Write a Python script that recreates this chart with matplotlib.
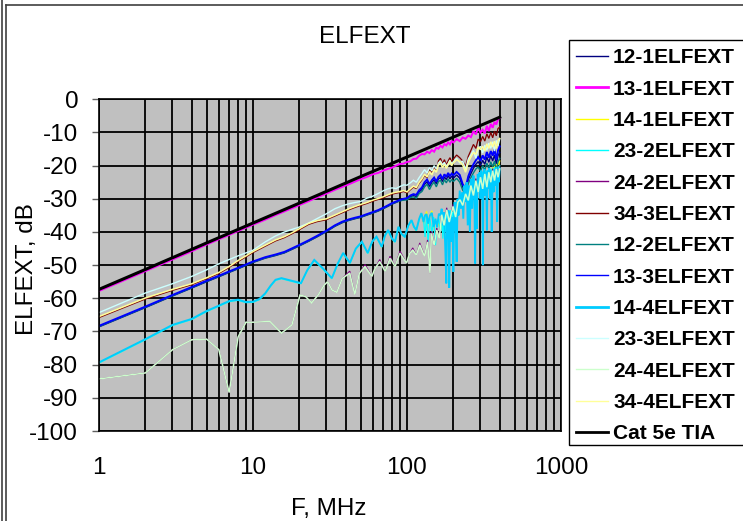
import matplotlib
matplotlib.use("Agg")
import matplotlib.pyplot as plt
from matplotlib.lines import Line2D
from matplotlib.patches import Rectangle

plt.rcParams['font.family'] = ['Liberation Sans', 'DejaVu Sans']

# ---------------- data ----------------
title = "ELFEXT"
x_label = "F, MHz"
y_label = "ELFEXT, dB"
x_ticks = [1, 10, 100, 1000]
x_tick_labels = ["1", "10", "100", "1000"]
y_ticks = [0, -10, -20, -30, -40, -50, -60, -70, -80, -90, -100]

# shared frequency grid (MHz) for the upper / middle group
freq_mid = [1, 2, 3, 4, 5, 6, 7, 8, 9, 10, 12, 14, 16, 18, 20, 23, 26, 30, 34, 38, 42, 46, 50,
            55, 60, 65, 70, 75, 80, 85, 90, 95, 100,
            105, 110, 115, 120, 125, 130, 135, 140, 145, 150, 155, 160, 165, 170, 175, 180, 185, 190, 195, 200,
            210, 220, 230, 240, 250, 260, 270, 280, 290, 300, 310, 320, 330, 340, 350, 360, 370, 380, 390, 400]

v_13_1 = [-57.8, -51.8, -48.3, -45.8, -43.8, -42.2, -40.9, -39.7, -38.7, -37.8, -36.3, -34.9, -33.8, -32.8, -31.9,
          -30.7, -29.6, -28.4, -27.3, -26.4, -25.6, -24.8, -24.1, -23.4, -22.6, -22.2, -21.5, -21.0, -20.6, -20.0,
          -19.5, -19.4, -18.9, -18.7, -18.0, -17.9, -17.0, -16.5, -16.6, -15.8, -16.2, -15.3, -15.8, -14.6, -14.9,
          -14.0, -14.5, -13.5, -13.9, -13.0, -13.6, -12.6, -13.0, -12.0, -12.6, -11.5, -11.9, -10.9, -11.4, -9.6,
          -10.6, -8.4, -10.0, -9.2, -10.3, -8.0, -9.6, -7.4, -8.6, -6.8, -7.6, -6.0, -5.6]

v_13_3 = [-68.3, -62.5, -59.0, -56.6, -54.7, -53.2, -51.9, -50.8, -49.8, -48.9, -47.6, -46.8, -46.0, -44.9, -43.9,
          -42.5, -41.2, -39.6, -38.0, -36.9, -36.2, -35.7, -35.3, -34.6, -34.0, -33.4, -32.7, -32.0, -31.3, -30.8,
          -30.3, -30.0, -29.8, -29.0, -28.6, -28.8, -27.4, -26.6, -25.0, -24.2, -25.6, -24.4, -23.6, -24.8, -23.4,
          -22.8, -24.0, -22.6, -23.4, -22.2, -23.2, -22.4, -22.9, -21.9, -22.8, -25.6, -26.8, -23.2, -21.2, -19.6,
          -18.4, -17.4, -18.6, -16.9, -18.2, -15.9, -17.6, -15.6, -17.0, -15.1, -18.2, -15.4, -14.2]

v_12_1 = [-68.6, -62.8, -59.3, -56.9, -55.0, -53.5, -52.2, -51.1, -50.1, -49.2, -47.9, -47.1, -46.3, -45.2, -44.2,
          -42.8, -41.5, -39.9, -38.3, -37.2, -36.5, -36.0, -35.6, -34.9, -34.3, -33.7, -33.0, -32.3, -31.6, -31.1,
          -30.6, -30.3, -30.1, -29.4, -29.0, -29.3, -27.9, -27.2, -25.6, -24.9, -26.3, -25.0, -24.3, -25.5, -24.0,
          -23.6, -24.8, -23.4, -24.2, -23.0, -24.0, -23.2, -23.8, -22.8, -23.8, -26.4, -27.6, -24.2, -22.4, -20.8,
          -19.6, -18.8, -20.0, -18.4, -19.6, -17.4, -19.0, -17.0, -18.6, -16.8, -19.6, -17.0, -16.0]

v_12_2 = [-68.5, -62.7, -59.2, -56.8, -54.9, -53.4, -52.1, -51.0, -50.0, -49.1, -47.8, -47.0, -46.2, -45.1, -44.1,
          -42.7, -41.4, -39.8, -38.2, -37.1, -36.4, -35.9, -35.5, -34.8, -34.2, -33.6, -32.9, -32.2, -31.5, -31.0,
          -30.6, -30.4, -30.3, -29.6, -29.4, -29.8, -28.4, -27.8, -26.4, -25.6, -27.2, -25.8, -25.0, -26.4, -24.8,
          -24.4, -25.8, -24.2, -25.2, -24.0, -25.0, -24.2, -24.8, -23.8, -25.0, -27.4, -28.6, -25.4, -23.6, -22.2,
          -21.0, -20.4, -21.8, -20.0, -21.4, -19.2, -21.0, -18.8, -20.4, -18.6, -21.6, -18.8, -17.8]

v_23_3 = [-64.3, -58.4, -55.6, -53.4, -51.4, -49.6, -48.3, -47.2, -46.3, -45.5, -43.0, -41.2, -40.0, -39.2, -38.5,
          -37.3, -36.0, -34.5, -33.0, -32.1, -31.5, -31.1, -30.8, -29.8, -29.2, -28.4, -27.6, -27.0, -26.7, -26.9,
          -26.3, -25.8, -25.9, -25.2, -24.4, -25.0, -23.6, -22.4, -21.2, -22.2, -20.6, -21.6, -20.0, -21.0, -19.2,
          -18.6, -19.8, -19.0, -20.2, -19.4, -18.4, -19.6, -18.8, -17.8, -19.2, -18.6, -21.2, -18.0, -16.8, -15.4,
          -17.8, -14.8, -14.2, -16.2, -13.8, -15.4, -13.2, -14.8, -12.8, -15.6, -12.4, -14.0, -12.0]

v_34_4 = [-65.5, -59.9, -57.3, -55.6, -53.8, -52.2, -50.4, -48.6, -47.2, -45.9, -44.0, -42.4, -41.4, -40.2, -39.0,
          -37.4, -36.6, -36.0, -34.9, -33.9, -33.0, -32.3, -31.7, -31.1, -30.4, -29.9, -29.4, -28.8, -28.3, -28.0,
          -27.8, -27.5, -27.9, -27.0, -26.2, -26.6, -25.0, -24.0, -22.6, -23.4, -21.8, -22.8, -21.2, -22.0, -19.8,
          -19.2, -20.6, -19.6, -20.8, -19.8, -18.8, -20.0, -19.2, -18.2, -18.8, -19.8, -22.0, -19.0, -17.4, -16.0,
          -16.6, -14.4, -15.2, -14.2, -15.6, -13.4, -14.8, -12.8, -14.4, -12.6, -14.8, -12.4, -11.8]

v_34_3 = [-65.8, -60.2, -57.6, -55.9, -54.1, -52.5, -50.7, -48.9, -47.5, -46.2, -44.3, -42.7, -41.7, -40.5, -39.3,
          -37.7, -36.9, -36.3, -35.2, -34.2, -33.3, -32.6, -32.0, -31.4, -30.7, -30.2, -29.7, -29.1, -28.6, -28.3,
          -28.1, -27.8, -28.2, -27.3, -26.5, -26.9, -25.3, -24.3, -22.9, -23.7, -21.0, -22.0, -20.4, -21.2, -18.6,
          -17.8, -19.4, -18.2, -19.8, -18.6, -17.6, -18.8, -18.0, -16.8, -17.6, -18.6, -20.2, -17.2, -15.4, -13.6,
          -14.8, -12.0, -12.8, -11.2, -12.6, -10.4, -11.8, -10.0, -11.6, -9.6, -11.0, -8.8, -8.4]

# Cat 5e TIA limit line
freq_tia = [1, 2, 5, 10, 20, 50, 100, 200, 400]
v_tia = [-57.3, -51.3, -43.3, -37.3, -31.3, -23.3, -17.4, -11.4, -5.4]

# lower group (own frequency grid)
freq_low = [1, 2, 3, 4, 5, 6, 7, 8, 9, 10, 11, 12, 13, 14, 15.3, 17.5, 20.5, 22.5, 25, 28.5, 32.5, 35.5, 38.5,
            42.6, 46.5, 50.9, 55.6, 59.5, 63.4, 68.5, 72, 75.5, 79.5, 83.6, 88, 92, 96.7, 102, 107, 111, 115,
            120, 124, 128, 131, 134, 137, 141, 145, 149, 153, 157, 161, 165, 168, 171, 174, 177, 180, 182, 184,
            186, 188, 190, 192, 194, 196, 198, 200, 202, 204, 207, 210, 213, 216, 220, 224, 228, 232, 236, 240,
            244, 248, 252, 256, 260, 265, 270, 274, 277, 280, 284, 288, 292, 296, 300, 304, 308, 311, 314, 318,
            322, 326, 330, 334, 338, 342, 346, 350, 355, 360, 365, 370, 375, 380, 385, 390, 395, 400]

v_14_4 = [-79.3, -72.3, -68.0, -66.2, -63.8, -62.2, -60.8, -60.4, -61.1, -61.0, -60.2, -58.5, -56.2, -54.4, -53.9,
          -54.6, -55.4, -51.5, -48.4, -51.0, -53.9, -49.5, -46.3, -49.3, -45.0, -42.9, -46.3, -42.8, -41.4, -44.4,
          -41.0, -39.4, -41.8, -42.9, -38.4, -40.5, -41.4, -38.0, -36.4, -38.4, -39.4, -36.0, -34.3, -37.0, -35.0,
          -34.6, -37.5, -35.0, -34.2, -38.5, -36.0, -38.5, -34.5, -35.0, -33.0, -38.0, -34.0, -44.0, -55.5, -36.0,
          -42.0, -33.5, -56.8, -40.0, -34.0, -43.0, -35.5, -41.0, -52.0, -36.0, -31.0, -38.0, -49.0, -30.0, -35.0,
          -27.5, -33.0, -28.0, -36.0, -26.0, -31.0, -25.0, -38.0, -26.0, -40.0, -24.0, -33.0, -23.0, -29.0, -49.5,
          -26.0, -39.0, -22.5, -28.0, -22.0, -30.0, -21.5, -27.0, -50.0, -24.0, -21.0, -29.0, -22.0, -39.5, -21.5,
          -27.0, -20.8, -30.0, -21.5, -40.0, -22.0, -28.0, -21.0, -26.0, -20.5, -37.0, -21.5, -25.0, -20.8]

v_23_2 = [-79.5, -72.5, -68.2, -66.4, -64.0, -62.4, -61.0, -60.6, -61.3, -61.2, -60.4, -58.7, -56.4, -54.6, -54.1,
          -54.8, -55.6, -51.7, -48.6, -51.2, -54.1, -49.7, -46.5, -49.5, -45.2, -43.1, -46.5, -43.0, -41.6, -44.6,
          -41.2, -39.6, -42.0, -43.1, -38.6, -40.7, -41.6, -38.2, -36.6, -38.6, -39.6, -36.3, -34.6, -36.0, -41.5,
          -35.0, -43.0, -36.0, -40.5, -35.5, -44.0, -37.0, -36.0, -40.0, -34.0, -42.0, -36.5, -40.0, -37.0, -33.0,
          -38.0, -35.0, -40.0, -36.0, -33.5, -37.0, -34.0, -36.5, -33.0, -35.0, -32.0, -34.0, -31.0, -32.5, -30.0,
          -31.0, -29.0, -30.5, -28.0, -29.5, -27.0, -28.5, -26.5, -28.0, -26.0, -27.0, -25.0, -26.5, -24.5, -26.0,
          -24.0, -25.5, -23.5, -25.0, -23.0, -24.5, -22.5, -24.0, -22.0, -23.5, -22.0, -23.0, -21.5, -23.0, -21.5,
          -22.5, -21.0, -22.5, -21.0, -22.0, -20.8, -22.0, -20.5, -21.5, -20.5, -21.5, -20.2, -21.0, -20.0]

v_14_1 = [-79.4, -72.4, -68.1, -66.3, -63.9, -62.3, -60.9, -60.5, -61.2, -61.1, -60.3, -58.6, -56.3, -54.5, -54.0,
          -54.7, -55.5, -51.6, -48.5, -51.1, -54.0, -49.6, -46.4, -49.4, -45.1, -43.0, -46.4, -42.9, -41.5, -44.5,
          -41.1, -39.5, -41.9, -43.0, -38.5, -40.6, -41.5, -38.1, -36.5, -38.5, -39.5, -36.1, -34.4, -37.2, -35.2,
          -33.8, -37.7, -35.2, -33.6, -38.7, -36.2, -38.0, -37.5, -39.0, -37.5, -38.5, -36.0, -39.0, -40.0, -37.5,
          -39.0, -36.0, -38.0, -37.5, -36.5, -38.2, -37.0, -37.8, -37.8, -35.0, -33.0, -34.5, -32.5, -33.0, -31.0,
          -32.0, -30.5, -31.5, -29.5, -30.5, -28.5, -29.5, -28.0, -29.0, -27.5, -28.0, -26.5, -27.5, -26.0, -27.0,
          -25.5, -26.5, -25.0, -26.0, -24.5, -25.5, -24.0, -25.0, -23.5, -24.5, -23.0, -24.0, -22.5, -23.5, -22.0,
          -23.0, -21.5, -22.5, -21.0, -22.0, -20.5, -21.5, -20.0, -21.0, -19.5, -20.5, -19.0, -19.8, -18.6]

freq_green = [1, 2, 3, 4, 5, 6, 7, 8, 9, 10, 12.9, 15.3, 17.9, 20.2, 22, 24, 26.5, 29, 30.5, 32.6, 35, 38,
              42.5, 45.8, 49, 53.4, 59.1, 62, 66.5, 72.2, 77.6, 83.6, 90, 99.3, 104, 109, 115, 121, 130, 136,
              141, 144, 150, 156, 162, 168, 174, 181, 188, 199, 207, 214, 221, 230, 240, 250, 260, 270, 280,
              290, 300, 310, 320, 330, 340, 350, 360, 370, 380, 390, 400]

v_24_4 = [-84.3, -82.5, -75.5, -72.5, -72.3, -75.5, -88.4, -71.7, -67.2, -67.2, -67.0, -70.5, -68.0, -59.0,
          -59.5, -61.4, -59.0, -56.0, -55.0, -57.5, -58.2, -54.0, -52.4, -58.9, -52.5, -50.4, -53.4, -51.0,
          -48.9, -51.9, -47.9, -50.4, -46.4, -49.4, -46.5, -45.4, -47.0, -43.9, -47.4, -43.0, -52.4, -40.4,
          -44.0, -39.4, -42.0, -34.8, -38.0, -33.3, -37.0, -32.3, -35.5, -31.0, -30.3, -32.0, -28.5, -30.5,
          -26.0, -29.0, -24.5, -28.0, -23.5, -27.0, -22.5, -26.5, -22.0, -25.0, -21.5, -24.5, -21.0, -23.5, -21.0]

v_24_2 = [-84.3, -82.5, -75.5, -72.5, -72.3, -75.5, -88.4, -71.7, -67.2, -67.2, -67.0, -70.5, -68.0, -59.0,
          -59.5, -61.4, -59.0, -56.0, -55.0, -57.5, -58.2, -54.0, -51.8, -58.9, -52.5, -49.8, -53.4, -51.0,
          -48.3, -51.9, -47.3, -50.4, -45.8, -49.4, -46.5, -44.8, -47.0, -43.3, -47.4, -42.4, -52.4, -39.8,
          -44.0, -38.8, -42.0, -34.2, -38.0, -32.7, -37.0, -31.7, -35.5, -30.4, -29.7, -32.0, -27.9, -30.5,
          -25.4, -29.0, -23.9, -28.0, -22.9, -27.0, -21.9, -26.5, -21.4, -25.0, -20.9, -24.5, -20.4, -23.5, -20.4]

# series definitions (drawing order as in the legend): label, freq, values, colour, width
series = [
    ("12-1ELFEXT", freq_mid, v_12_1, "#000080", 1.0),
    ("13-1ELFEXT", freq_mid, v_13_1, "#FF00FF", 1.4),
    ("14-1ELFEXT", freq_low, v_14_1, "#FFFF00", 0.9),
    ("23-2ELFEXT", freq_low, v_23_2, "#00FFFF", 0.9),
    ("24-2ELFEXT", freq_green, v_24_2, "#800080", 0.8),
    ("34-3ELFEXT", freq_mid, v_34_3, "#800000", 0.9),
    ("12-2ELFEXT", freq_mid, v_12_2, "#008080", 1.0),
    ("13-3ELFEXT", freq_mid, v_13_3, "#0000FF", 1.4),
    ("14-4ELFEXT", freq_low, v_14_4, "#00CCFF", 1.35),
    ("23-3ELFEXT", freq_mid, v_23_3, "#CCFFFF", 1.0),
    ("24-4ELFEXT", freq_green, v_24_4, "#CCFFCC", 1.1),
    ("34-4ELFEXT", freq_mid, v_34_4, "#FFFF99", 1.1),
    ("Cat 5e TIA", freq_tia, v_tia, "#000000", 2.2),
]

# ---------------- figure ----------------
W, H = 743, 521
fig = plt.figure(figsize=(W / 100, H / 100), dpi=100)

def fx(px):
    return px / W

def fy(py):
    return 1 - py / H

ax = fig.add_axes([fx(99), fy(431), fx(561) - fx(99), fy(99.3) - fy(431)])
ax.set_facecolor("#C0C0C0")
ax.set_xscale("log")
ax.set_xlim(1, 1000)
ax.set_ylim(-100, 0)

for name, f, v, c, lw in series:
    ax.plot(f, v, color=c, lw=lw, solid_joinstyle="miter")

ax.set_xticks(x_ticks)
ax.set_xticklabels(x_tick_labels)
ax.set_yticks(y_ticks)
ax.set_yticklabels([str(t) for t in y_ticks])
ax.grid(True, which="major", axis="both", color="black", lw=1.3)
ax.grid(True, which="minor", axis="x", color="black", lw=1.3)
ax.set_axisbelow(True)
ax.tick_params(axis="x", which="both", length=0, pad=19, labelsize=17.5)
ax.tick_params(axis="y", which="major", length=5, width=1, color="#606060", pad=10, labelsize=17.5)
ax.tick_params(axis="y", which="minor", length=0)
for s in ax.spines.values():
    s.set_color("black")
    s.set_linewidth(1.2)

fig.text(fx(365), fy(37), title, ha="center", va="center", fontsize=17.5)
fig.text(fx(329), fy(509), x_label, ha="center", va="center", fontsize=17.5)
fig.text(fx(27), fy(269), y_label, ha="center", va="center", rotation=90, fontsize=17.5)

# chart border
fig.add_artist(Line2D([fx(1.5), fx(1.5)], [0, 1], color="#404040", lw=1.2))
fig.add_artist(Line2D([fx(6.5), fx(6.5)], [0, fy(5)], color="#404040", lw=1.2))
fig.add_artist(Line2D([fx(6.5), 1], [fy(5), fy(5)], color="#404040", lw=1.2))

# legend
lx0, ly0, lx1, ly1 = 569, 40, 745, 445
fig.add_artist(Rectangle((fx(lx0), fy(ly1)), fx(lx1) - fx(lx0), fy(ly0) - fy(ly1),
                         facecolor="white", edgecolor="black", lw=1.0))
for i, (name, f, v, c, lw) in enumerate(series):
    yc = 56 + 31.33 * i
    leg_lw = 2.0 if name in ("13-1ELFEXT", "14-4ELFEXT", "Cat 5e TIA") else 1.0
    fig.add_artist(Line2D([fx(576), fx(608)], [fy(yc), fy(yc)], color=c, lw=leg_lw))
    fig.text(fx(613), fy(yc + 7.5), name, ha="left", va="baseline", fontsize=15, fontweight="bold")

fig.savefig("out.png", dpi=100)
